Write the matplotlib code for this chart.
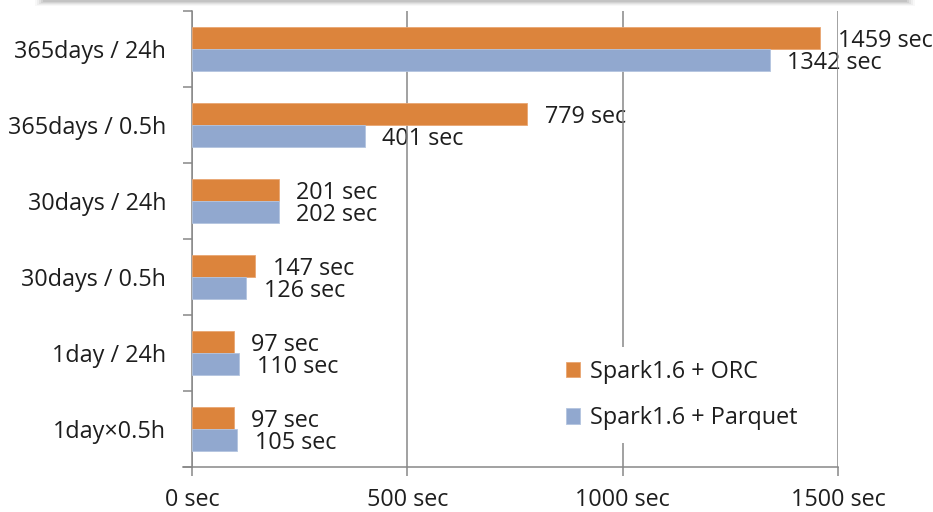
import matplotlib
matplotlib.use("Agg")
import matplotlib.pyplot as plt
from matplotlib.patches import Rectangle
import numpy as np

plt.rcParams['font.family'] = ['Open Sans', 'DejaVu Sans']

categories = ["365days / 24h", "365days / 0.5h", "30days / 24h",
              "30days / 0.5h", "1day / 24h", "1day\u00d70.5h"]
orc_values = [1459, 779, 201, 147, 97, 97]
parquet_values = [1342, 401, 202, 126, 110, 105]
series_names = ["Spark1.6 + ORC", "Spark1.6 + Parquet"]
x_ticks = [0, 500, 1000, 1500]
x_tick_labels = ["0 sec", "500 sec", "1000 sec", "1500 sec"]

ORANGE = "#DC843C"
BLUE = "#91A8CF"
GRAY = "#878787"
TEXT = "#1e1e1e"
FS = 16.8

W, H = 933, 512
fig = plt.figure(figsize=(W / 100, H / 100), dpi=100)
fig.patch.set_facecolor("white")

# soft frame edge along the top
for i, a in enumerate([0.05, 0.08, 0.11, 0.15, 0.18]):
    fig.patches.append(Rectangle(((35 + i * 2) / W, 1 - (6 - i) / H),
                                 (880 - i * 4) / W, (6 - i) / H,
                                 transform=fig.transFigure, facecolor="#808080",
                                 edgecolor="none", alpha=a, zorder=0))

left, right, top, bottom = 192, 838, 11, 467
ax = fig.add_axes([left / W, 1 - bottom / H, (right - left) / W, (bottom - top) / H])

y = np.arange(len(categories))
bh = 0.283
ax.barh(y - bh / 2, orc_values, height=bh, color=ORANGE, edgecolor="#E9A673",
        linewidth=0.6, label=series_names[0], zorder=3)
ax.barh(y + bh / 2, parquet_values, height=bh, color=BLUE, edgecolor="#B3C4DF",
        linewidth=0.6, label=series_names[1], zorder=3)

# value labels sit under the gridlines
for yi, v in zip(y, orc_values):
    ax.annotate(f"{v} sec", (v, yi - bh / 2), xytext=(12.5, -2.2), textcoords="offset points",
                ha="left", va="center", fontsize=FS, color=TEXT, zorder=0.3)
for yi, v in zip(y, parquet_values):
    ax.annotate(f"{v} sec", (v, yi + bh / 2), xytext=(12.5, -2.2), textcoords="offset points",
                ha="left", va="center", fontsize=FS, color=TEXT, zorder=0.3)

ax.set_xlim(0, 1500)
ax.set_ylim(len(categories) - 0.5, -0.5)

ax.set_xticks(x_ticks)
ax.set_xticklabels(x_tick_labels, fontsize=FS, color=TEXT)
ax.tick_params(axis="x", direction="out", length=6.5, width=1.1, color=GRAY, pad=8.5)

ax.set_yticks(np.arange(len(categories) + 1) - 0.5)
ax.set_yticklabels([])
ax.set_yticks(y, minor=True)
ax.set_yticklabels(categories, minor=True, fontsize=FS, color=TEXT)
ax.tick_params(axis="y", which="major", direction="out", length=6.5, width=1.1, color=GRAY)
ax.tick_params(axis="y", which="minor", length=0, pad=18.5)

ax.grid(axis="x", color=GRAY, linewidth=1.1, zorder=0.5)
ax.set_axisbelow(True)
for s in ["top", "right"]:
    ax.spines[s].set_visible(False)
for s in ["left", "bottom"]:
    ax.spines[s].set_color(GRAY)
    ax.spines[s].set_linewidth(1.1)
# extend the baseline under the category ticks
ax.plot([-21, 0], [len(categories) - 0.5] * 2, color=GRAY, linewidth=1.1,
        clip_on=False, zorder=2)

leg = ax.legend(loc="center left", bbox_to_anchor=(541 / W, 1 - 395 / H),
                bbox_transform=fig.transFigure, frameon=True, fontsize=FS,
                handlelength=0.64, handleheight=0.64, handletextpad=0.4,
                labelspacing=0.95, borderpad=0.55, fancybox=False)
leg.get_frame().set_facecolor("white")
leg.get_frame().set_edgecolor("none")
leg.get_frame().set_alpha(1)
for t in leg.get_texts():
    t.set_color(TEXT)
leg.set_zorder(6)

fig.savefig("out.png", dpi=100, facecolor="white")
